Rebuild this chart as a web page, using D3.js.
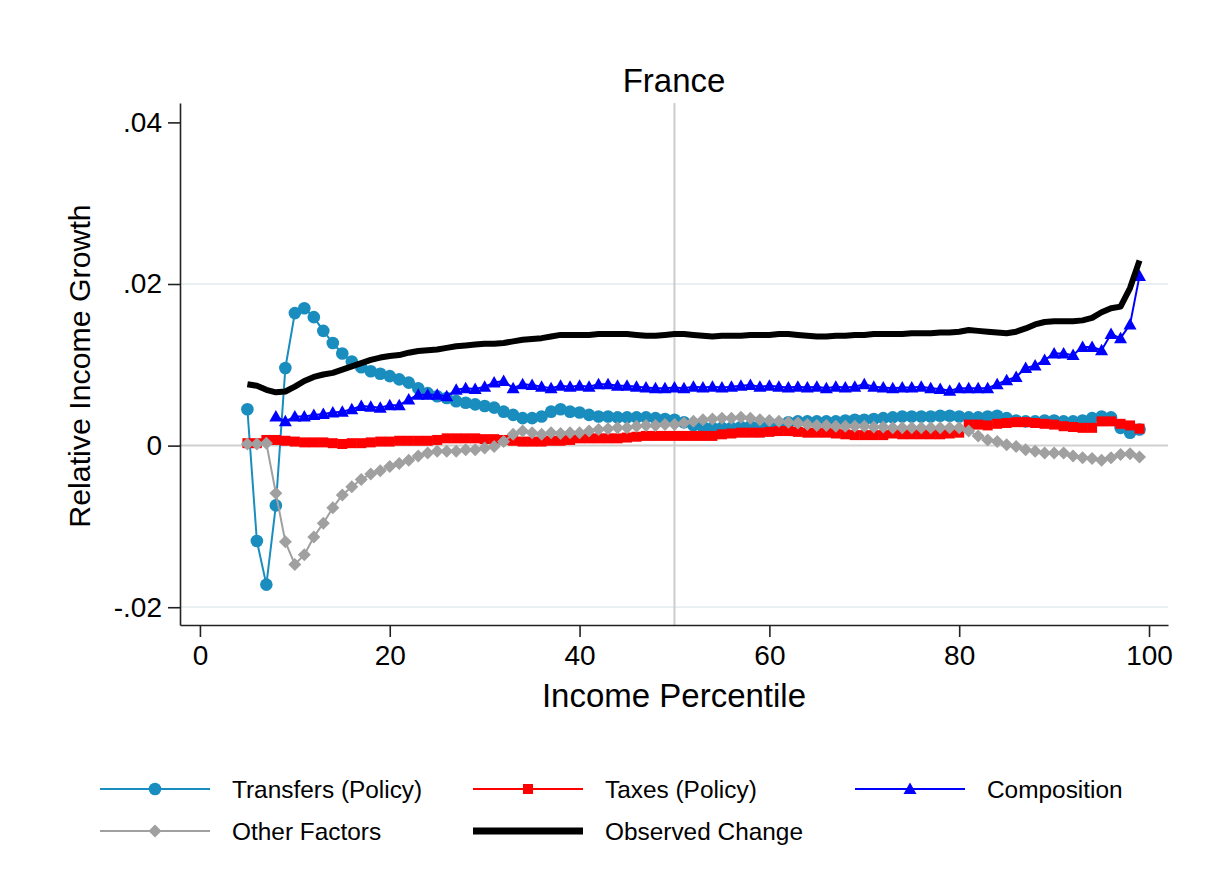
<!DOCTYPE html>
<html>
<head>
<meta charset="utf-8">
<script src="https://cdn.jsdelivr.net/npm/d3@7/dist/d3.min.js"></script>
<style>
  html, body { margin: 0; padding: 0; background: #ffffff; }
  svg { display: block; font-family: "Liberation Sans", Arial, sans-serif; }
</style>
</head>
<body>
<svg id="chart" width="1215" height="886"></svg>
<script>
// Income percentiles 5..99
const percentiles = d3.range(5, 100);

// Contribution of each component to relative income growth, by percentile (5..99)
const transfers = [
  0.0045, -0.0118, -0.0172, -0.0074, 0.0096, 0.0164, 0.0170, 0.0159, 0.0142, 0.0127,
  0.0114, 0.0104, 0.0097, 0.0092, 0.0089, 0.0086, 0.0082, 0.0078, 0.0071, 0.0065,
  0.0061, 0.0059, 0.0055, 0.0053, 0.0051, 0.0049, 0.0047, 0.0042, 0.0038, 0.0034,
  0.0034, 0.0036, 0.0042, 0.0045, 0.0042, 0.0041, 0.0038, 0.0036, 0.0036, 0.0035,
  0.0035, 0.0035, 0.0035, 0.0034, 0.0033, 0.0032, 0.0029, 0.0025, 0.0023, 0.0022,
  0.0022, 0.0022, 0.0023, 0.0024, 0.0024, 0.0025, 0.0027, 0.0029, 0.0030, 0.0030,
  0.0030, 0.0030, 0.0030, 0.0031, 0.0032, 0.0032, 0.0033, 0.0034, 0.0035, 0.0036,
  0.0036, 0.0036, 0.0036, 0.0037, 0.0037, 0.0036, 0.0035, 0.0035, 0.0036, 0.0037,
  0.0034, 0.0031, 0.0030, 0.0030, 0.0031, 0.0031, 0.0030, 0.0030, 0.0031, 0.0034,
  0.0036, 0.0035, 0.0022, 0.0016, 0.0020
];

const taxes = [
  0.0003, 0.0003, 0.0007, 0.0007, 0.0006, 0.0005, 0.0004, 0.0004, 0.0004, 0.0003,
  0.0002, 0.0003, 0.0003, 0.0004, 0.0005, 0.0005, 0.0006, 0.0006, 0.0006, 0.0006,
  0.0007, 0.0009, 0.0009, 0.0009, 0.0009, 0.0008, 0.0008, 0.0007, 0.0006, 0.0005,
  0.0005, 0.0005, 0.0006, 0.0006, 0.0007, 0.0009, 0.0009, 0.0009, 0.0009, 0.0009,
  0.0010, 0.0011, 0.0012, 0.0012, 0.0012, 0.0012, 0.0012, 0.0012, 0.0012, 0.0012,
  0.0014, 0.0015, 0.0016, 0.0016, 0.0016, 0.0017, 0.0018, 0.0018, 0.0017, 0.0016,
  0.0016, 0.0016, 0.0015, 0.0014, 0.0013, 0.0013, 0.0013, 0.0013, 0.0015, 0.0014,
  0.0014, 0.0014, 0.0014, 0.0014, 0.0015, 0.0016, 0.0026, 0.0026, 0.0025, 0.0027,
  0.0028, 0.0029, 0.0029, 0.0028, 0.0027, 0.0026, 0.0024, 0.0023, 0.0022, 0.0022,
  0.0030, 0.0030, 0.0027, 0.0025, 0.0021
];

// Composition starts at percentile 8
const composition = [
  null, null, null,
  0.0036, 0.0030, 0.0036, 0.0036, 0.0038, 0.0039, 0.0041,
  0.0042, 0.0045, 0.0049, 0.0048, 0.0047, 0.0050, 0.0050, 0.0057, 0.0063, 0.0063,
  0.0063, 0.0061, 0.0069, 0.0071, 0.0070, 0.0073, 0.0078, 0.0080, 0.0071, 0.0076,
  0.0075, 0.0073, 0.0071, 0.0074, 0.0073, 0.0074, 0.0073, 0.0076, 0.0076, 0.0074,
  0.0074, 0.0073, 0.0072, 0.0071, 0.0071, 0.0072, 0.0071, 0.0073, 0.0072, 0.0073,
  0.0072, 0.0073, 0.0074, 0.0075, 0.0073, 0.0074, 0.0073, 0.0072, 0.0073, 0.0072,
  0.0073, 0.0071, 0.0073, 0.0072, 0.0073, 0.0076, 0.0073, 0.0072, 0.0071, 0.0072,
  0.0072, 0.0073, 0.0071, 0.0070, 0.0068, 0.0071, 0.0071, 0.0071, 0.0071, 0.0076,
  0.0081, 0.0085, 0.0096, 0.0099, 0.0106, 0.0114, 0.0114, 0.0112, 0.0122, 0.0122,
  0.0118, 0.0138, 0.0133, 0.0150, 0.0210
];

const otherFactors = [
  0.0002, 0.0002, 0.0003, -0.0059, -0.0119, -0.0147, -0.0135, -0.0113, -0.0096, -0.0077,
  -0.0061, -0.0051, -0.0042, -0.0035, -0.0031, -0.0026, -0.0022, -0.0018, -0.0013, -0.0009,
  -0.0007, -0.0007, -0.0007, -0.0005, -0.0005, -0.0003, -0.0001, 0.0005, 0.0014, 0.0018,
  0.0016, 0.0014, 0.0016, 0.0015, 0.0016, 0.0016, 0.0018, 0.0020, 0.0021, 0.0022,
  0.0022, 0.0024, 0.0025, 0.0025, 0.0026, 0.0026, 0.0028, 0.0030, 0.0032, 0.0033,
  0.0034, 0.0034, 0.0035, 0.0034, 0.0032, 0.0031, 0.0030, 0.0029, 0.0028, 0.0026,
  0.0025, 0.0025, 0.0024, 0.0024, 0.0024, 0.0024, 0.0023, 0.0023, 0.0022, 0.0022,
  0.0022, 0.0022, 0.0022, 0.0022, 0.0022, 0.0022, 0.0018, 0.0012, 0.0007, 0.0005,
  0.0001, -0.0001, -0.0005, -0.0007, -0.0009, -0.0009, -0.0009, -0.0013, -0.0015, -0.0016,
  -0.0018, -0.0015, -0.0011, -0.0010, -0.0014
];

const observed = [
  0.0076, 0.0074, 0.0069, 0.0066, 0.0067, 0.0073, 0.0080, 0.0085, 0.0088, 0.0090,
  0.0094, 0.0098, 0.0102, 0.0106, 0.0109, 0.0111, 0.0112, 0.0115, 0.0117, 0.0118,
  0.0119, 0.0121, 0.0123, 0.0124, 0.0125, 0.0126, 0.0126, 0.0127, 0.0129, 0.0131,
  0.0132, 0.0133, 0.0135, 0.0137, 0.0137, 0.0137, 0.0137, 0.0138, 0.0138, 0.0138,
  0.0138, 0.0137, 0.0136, 0.0136, 0.0137, 0.0138, 0.0138, 0.0137, 0.0136, 0.0135,
  0.0136, 0.0136, 0.0136, 0.0137, 0.0137, 0.0137, 0.0138, 0.0138, 0.0137, 0.0136,
  0.0135, 0.0135, 0.0136, 0.0136, 0.0137, 0.0137, 0.0138, 0.0138, 0.0138, 0.0138,
  0.0139, 0.0139, 0.0139, 0.0140, 0.0140, 0.0141, 0.0143, 0.0142, 0.0141, 0.0140,
  0.0139, 0.0141, 0.0145, 0.0150, 0.0153, 0.0154, 0.0154, 0.0154, 0.0155, 0.0158,
  0.0165, 0.0170, 0.0172, 0.0195, 0.0229
];

// Axis ticks
const xTicks = [0, 20, 40, 60, 80, 100];
const yTicks = [-0.02, 0, 0.02, 0.04];

// Series styling, in drawing order
const seriesNames = ["Transfers (Policy)", "Taxes (Policy)", "Composition", "Other Factors", "Observed Change"];
const seriesValues = [transfers, taxes, composition, otherFactors, observed];
const seriesColors = ["#1a8dbf", "#ff0000", "#0000ff", "#a0a0a0", "#000000"];
const seriesMarkers = ["circle", "square", "triangle", "diamond", null];
const seriesWidths = [2, 2, 2, 2, 6];

const svg = d3.select("#chart");
svg.append("rect").attr("width", 1215).attr("height", 886).attr("fill", "#ffffff");

const plot = { left: 180, right: 1168, top: 103, bottom: 625 };

const x = d3.scaleLinear().domain([-2.1, 102]).range([plot.left, plot.right]);
const y = d3.scaleLinear().domain([-0.0222, 0.0424]).range([plot.bottom, plot.top]);

// Horizontal gridlines
svg.append("g").selectAll("line")
  .data([-0.02, 0.02])
  .join("line")
  .attr("x1", plot.left).attr("x2", plot.right)
  .attr("y1", d => y(d)).attr("y2", d => y(d))
  .attr("stroke", "#e7eff1").attr("stroke-width", 1.8);

// Reference lines: zero and the median percentile
svg.append("line")
  .attr("x1", plot.left).attr("x2", plot.right)
  .attr("y1", y(0)).attr("y2", y(0))
  .attr("stroke", "#d0d0d0").attr("stroke-width", 2);
svg.append("line")
  .attr("x1", x(50)).attr("x2", x(50))
  .attr("y1", plot.top).attr("y2", plot.bottom)
  .attr("stroke", "#cccccc").attr("stroke-width", 2);

// Marker shapes
function markerPath(kind) {
  switch (kind) {
    case "circle": return "M6.3,0A6.3,6.3 0 1,1 -6.3,0A6.3,6.3 0 1,1 6.3,0Z";
    case "square": return "M-5,-5L5,-5L5,5L-5,5Z";
    case "triangle": return "M0,-6.5L6.5,5L-6.5,5Z";
    case "diamond": return "M0,-6.5L6.5,0L0,6.5L-6.5,0Z";
    default: return "";
  }
}

const lineGen = d3.line()
  .defined(d => d.v !== null)
  .x(d => x(d.p))
  .y(d => y(d.v));

seriesValues.forEach((vals, i) => {
  const pts = percentiles.map((p, k) => ({ p: p, v: vals[k] }));
  const g = svg.append("g");
  g.append("path")
    .datum(pts)
    .attr("d", lineGen)
    .attr("fill", "none")
    .attr("stroke", seriesColors[i])
    .attr("stroke-width", seriesWidths[i])
    .attr("stroke-linejoin", "round");
  if (seriesMarkers[i]) {
    g.selectAll("path.mk")
      .data(pts.filter(d => d.v !== null))
      .join("path")
      .attr("class", "mk")
      .attr("transform", d => `translate(${x(d.p)},${y(d.v)})`)
      .attr("d", markerPath(seriesMarkers[i]))
      .attr("fill", seriesColors[i]);
  }
});

// Axes (Stata-style labels: no leading zero, plain hyphen for negatives)
const fmtY = d => d === 0 ? "0" : d3.format(".2f")(d).replace("0.", ".").replace("\u2212", "-");

const yAxis = svg.append("g")
  .attr("transform", `translate(${plot.left},0)`)
  .call(d3.axisLeft(y).tickValues(yTicks).tickFormat(fmtY).tickSize(12).tickSizeOuter(0).tickPadding(6));
const xAxis = svg.append("g")
  .attr("transform", `translate(0,${plot.bottom})`)
  .call(d3.axisBottom(x).tickValues(xTicks).tickFormat(d3.format("d")).tickSize(12).tickSizeOuter(0).tickPadding(8));

[yAxis, xAxis].forEach(a => {
  a.select(".domain").attr("stroke", "#222222").attr("stroke-width", 1.6);
  a.selectAll(".tick line").attr("stroke", "#222222").attr("stroke-width", 1.6);
  a.selectAll(".tick text")
    .attr("fill", "#000000")
    .style("font-family", "'Liberation Sans', Arial, sans-serif")
    .style("font-size", "28px");
});

// Titles
svg.append("text")
  .attr("x", (plot.left + plot.right) / 2).attr("y", 92)
  .attr("text-anchor", "middle")
  .style("font-size", "33px").attr("fill", "#000")
  .text("France");

svg.append("text")
  .attr("x", (plot.left + plot.right) / 2).attr("y", 707)
  .attr("text-anchor", "middle")
  .style("font-size", "33px").attr("fill", "#000")
  .text("Income Percentile");

svg.append("text")
  .attr("transform", "translate(90,366) rotate(-90)")
  .attr("text-anchor", "middle")
  .style("font-size", "30.3px").attr("fill", "#000")
  .text("Relative Income Growth");

// Legend
const legendPos = [
  { lx: 100, ty: 789 }, { lx: 473, ty: 789 }, { lx: 855, ty: 789 },
  { lx: 100, ty: 831 }, { lx: 473, ty: 831 }
];
seriesNames.forEach((name, i) => {
  const pos = legendPos[i];
  const g = svg.append("g");
  g.append("line")
    .attr("x1", pos.lx).attr("x2", pos.lx + 110)
    .attr("y1", pos.ty).attr("y2", pos.ty)
    .attr("stroke", seriesColors[i])
    .attr("stroke-width", i === 4 ? 7 : 2);
  if (seriesMarkers[i]) {
    g.append("path")
      .attr("transform", `translate(${pos.lx + 55},${pos.ty})`)
      .attr("d", markerPath(seriesMarkers[i]))
      .attr("fill", seriesColors[i]);
  }
  g.append("text")
    .attr("x", pos.lx + 132).attr("y", pos.ty + 8.5)
    .style("font-size", "24.4px").attr("fill", "#000")
    .text(name);
});
</script>
</body>
</html>
